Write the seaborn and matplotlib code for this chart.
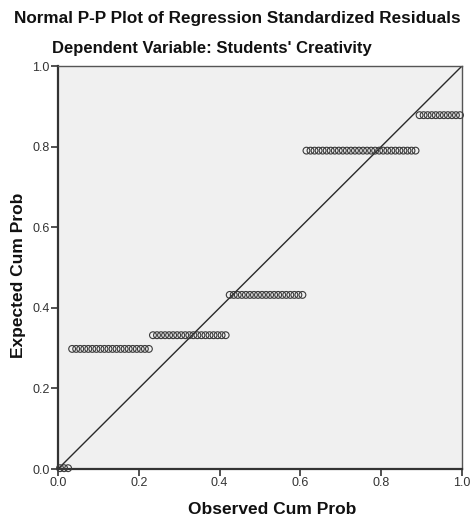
import numpy as np
import pandas as pd
import matplotlib
matplotlib.use("Agg")
import matplotlib.pyplot as plt
import seaborn as sns

# Expected cumulative probability levels (tied residual groups) and number of cases in each
expected_levels = [0.002, 0.298, 0.332, 0.432, 0.790, 0.878]
group_counts = [3, 20, 19, 19, 28, 11]

n_total = sum(group_counts)
ranks = np.arange(1, n_total + 1)
observed = (ranks - 0.5) / n_total
expected = np.repeat(expected_levels, group_counts)
df = pd.DataFrame({"Observed Cum Prob": observed, "Expected Cum Prob": expected})

tick_vals = [0.0, 0.2, 0.4, 0.6, 0.8, 1.0]
tick_labels = ["0.0", "0.2", "0.4", "0.6", "0.8", "1.0"]

sns.set_theme(style="white")
plt.rcParams["font.family"] = ["Liberation Sans", "DejaVu Sans"]

fig = plt.figure(figsize=(4.75, 5.17), dpi=100)
ax = fig.add_axes([58 / 475, 48 / 517, 404 / 475, 403 / 517])
ax.set_facecolor("#F0F0F0")

ax.axline((0, 0), slope=1, color="#2a2a2a", lw=1.0, zorder=2)
sns.scatterplot(data=df, x="Observed Cum Prob", y="Expected Cum Prob", ax=ax,
                marker="o", s=24, facecolors="none", edgecolor="#3a3a3a",
                linewidth=0.8, zorder=3, clip_on=False)

ax.set_xlim(0, 1)
ax.set_ylim(0, 1)
ax.set_xticks(tick_vals)
ax.set_xticklabels(tick_labels)
ax.set_yticks(tick_vals)
ax.set_yticklabels(tick_labels)
ax.tick_params(axis="both", which="major", direction="out", length=5, width=1.2,
               color="#333333", labelsize=9, labelcolor="#333333", pad=1,
               bottom=True, left=True)
for sp in ax.spines.values():
    sp.set_color("#555555")
    sp.set_linewidth(1.0)
ax.spines["left"].set_linewidth(1.6)
ax.spines["bottom"].set_linewidth(1.6)
ax.spines["left"].set_color("#333333")
ax.spines["bottom"].set_color("#333333")

ax.set_xlabel("Observed Cum Prob", fontsize=12.5, fontweight="bold", color="#111111")
ax.set_ylabel("Expected Cum Prob", fontsize=12.5, fontweight="bold", color="#111111")
ax.xaxis.set_label_coords((272 - 58) / 404, -(502 - 469) / 403)
ax.yaxis.set_label_coords(-(58 - 26) / 404, (469 - 275) / 403)

fig.text(0.5, 1 - 18 / 517, "Normal P-P Plot of Regression Standardized Residuals",
         ha="center", va="center", fontsize=12.3, fontweight="bold", color="#111111")
fig.text(212 / 475, 1 - 48 / 517, "Dependent Variable: Students' Creativity",
         ha="center", va="center", fontsize=12, fontweight="bold", color="#111111")

fig.savefig("out.png", dpi=100, facecolor="white")
